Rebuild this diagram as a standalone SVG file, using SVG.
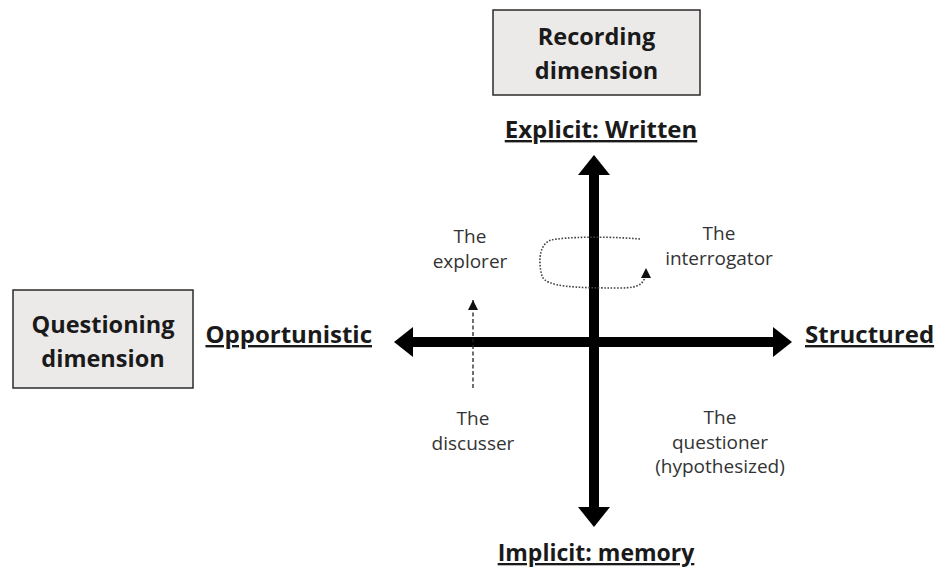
<svg xmlns="http://www.w3.org/2000/svg" width="935" height="568" viewBox="0 0 935 568">
  <style>
    .box { fill: #ece9e9; stroke: #2b2b2b; stroke-width: 1.5; }
    .boxtext { font-family: "Open Sans", "Liberation Sans", sans-serif; font-weight: bold; font-size: 23.500px; fill: #1a1a1a; text-anchor: middle; }
    .pole { font-family: "Open Sans", "Liberation Sans", sans-serif; font-weight: bold; font-size: 24px; fill: #1a1a1a; text-decoration: underline; }
    .role { font-family: "Open Sans", "Liberation Sans", sans-serif; font-size: 19px; fill: #333; text-anchor: middle; }
    .axis { stroke: #000; stroke-width: 10; fill: none; }
    .head { fill: #000; }
    .dash { stroke: #222; stroke-width: 1.3; fill: none; stroke-dasharray: 4 2.5; }
    .dot { stroke: #444; stroke-width: 1.6; fill: none; stroke-dasharray: 1.6 1.6; }
  </style>
  <defs>
    <marker id="tri" viewBox="0 0 10 10" refX="10" refY="5" markerWidth="10" markerHeight="10" markerUnits="userSpaceOnUse" orient="auto">
      <path d="M0,0 L10,5 L0,10 Z" fill="#111"/>
    </marker>
  </defs>

  <rect width="935" height="568" fill="#fff"/>

  <!-- dimension boxes -->
  <g id="recording-dimension">
    <rect class="box" x="493" y="10" width="207" height="85"/>
    <text class="boxtext" x="596.500" y="45">Recording</text>
    <text class="boxtext" x="596.500" y="79">dimension</text>
  </g>
  <g id="questioning-dimension">
    <rect class="box" x="13" y="290" width="180" height="98"/>
    <text class="boxtext" x="103" y="333">Questioning</text>
    <text class="boxtext" x="103" y="367">dimension</text>
  </g>

  <!-- axis pole labels -->
  <g id="explicit-written"><text class="pole" x="601" y="138" text-anchor="middle">Explicit: Written</text></g>
  <g id="implicit-memory"><text class="pole" x="596" y="561" text-anchor="middle" style="font-size:23px">Implicit: memory</text></g>
  <g id="opportunistic"><text class="pole" x="372" y="343" text-anchor="end">Opportunistic</text></g>
  <g id="structured"><text class="pole" x="805" y="343">Structured</text></g>

  <!-- role labels -->
  <g id="explorer">
    <text class="role" x="470" y="243">The</text>
    <text class="role" x="470" y="268">explorer</text>
  </g>
  <g id="interrogator">
    <text class="role" x="719" y="240">The</text>
    <text class="role" x="719" y="265">interrogator</text>
  </g>
  <g id="discusser">
    <text class="role" x="473" y="425">The</text>
    <text class="role" x="473" y="450">discusser</text>
  </g>
  <g id="questioner">
    <text class="role" x="720" y="424">The</text>
    <text class="role" x="720" y="449">questioner</text>
    <text class="role" x="720" y="473">(hypothesized)</text>
  </g>

  <g id="connectors">
    <!-- main axes -->
    <line class="axis" x1="594" y1="172" x2="594" y2="510"/>
    <polygon class="head" points="594,155 610,175 578,175"/>
    <polygon class="head" points="594,527 610,507 578,507"/>
    <line class="axis" x1="410" y1="342" x2="776" y2="342"/>
    <polygon class="head" points="394,342 413,327 413,357"/>
    <polygon class="head" points="792,342 773,327 773,357"/>

    <!-- discusser to explorer -->
    <line class="dash" x1="473" y1="388" x2="473" y2="300" marker-end="url(#tri)"/>

    <!-- interrogator loop -->
    <path class="dot" d="M640,239 C605,236 565,237 551,240 C539,244 538,262 542,276 C546,287 575,288 620,288 C640,288 646,284 646,268" marker-end="url(#tri)"/>
  </g>
</svg>
